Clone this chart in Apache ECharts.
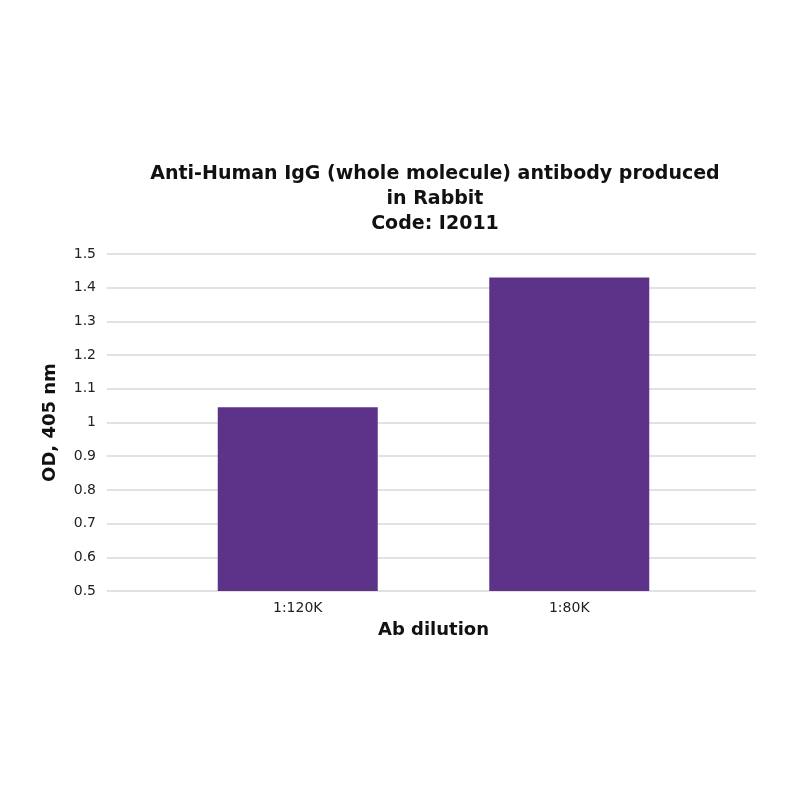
<!DOCTYPE html>
<html>
<head>
<meta charset="utf-8">
<script src="https://cdn.jsdelivr.net/npm/echarts@6/dist/echarts.min.js"></script>
<style>
  html, body { margin: 0; padding: 0; background: #fff; }
  #chart-container { width: 800px; height: 800px; }
</style>
</head>
<body>
<div id="chart-container"></div>
<script>
var dom = document.getElementById("chart-container");
var myChart = echarts.init(dom, null, { renderer: "canvas" });

// data
const dilutions = ["1:120K", "1:80K"];
const odValues = [1.045, 1.43];
const yMin = 0.5;
const yMax = 1.5;
const yStep = 0.1;

const font = "DejaVu Sans";

var option = {
  backgroundColor: "#fff",
  title: {
    text: "Anti-Human IgG (whole molecule) antibody produced\nin Rabbit\nCode: I2011",
    left: 430,
    top: 157,
    textAlign: "center",
    textStyle: {
      fontFamily: font,
      fontSize: 19,
      fontWeight: "bold",
      color: "#111",
      lineHeight: 25,
    },
  },
  grid: [
    // wide grid only for the horizontal gridlines + y labels
    { left: 107, right: 44, top: 254, bottom: 209 },
    // narrower grid holding the bars
    { left: 162, right: 95, top: 254, bottom: 209 },
  ],
  xAxis: [
    {
      gridIndex: 0,
      type: "category",
      data: dilutions,
      show: false,
    },
    {
      gridIndex: 1,
      type: "category",
      data: dilutions,
      axisLine: { show: false },
      axisTick: { show: false },
      axisLabel: {
        fontFamily: font,
        fontSize: 14,
        color: "#222",
        margin: 10,
      },
      name: "Ab dilution",
      nameLocation: "middle",
      nameGap: 30,
      nameTextStyle: {
        fontFamily: font,
        fontSize: 18,
        fontWeight: "bold",
        color: "#111",
      },
    },
  ],
  yAxis: [
    {
      gridIndex: 0,
      type: "value",
      min: yMin,
      max: yMax,
      interval: yStep,
      axisLine: { show: false },
      axisTick: { show: false },
      splitLine: { lineStyle: { color: "#d9d9d9", width: 1.5 } },
      axisLabel: {
        fontFamily: font,
        fontSize: 14,
        color: "#222",
        margin: 11,
        formatter: function (v) {
          return String(+v.toFixed(1));
        },
      },
      name: "OD, 405 nm",
      nameLocation: "middle",
      nameGap: 48,
      nameRotate: 90,
      nameTextStyle: {
        fontFamily: font,
        fontSize: 18,
        fontWeight: "bold",
        color: "#111",
      },
    },
    {
      gridIndex: 1,
      type: "value",
      min: yMin,
      max: yMax,
      interval: yStep,
      show: false,
      splitLine: { show: false },
    },
  ],
  series: [
    {
      type: "bar",
      xAxisIndex: 1,
      yAxisIndex: 1,
      data: odValues,
      barWidth: 160,
      itemStyle: { color: "#5c3389" },
    },
  ],
};

myChart.setOption(option);
window.addEventListener("resize", myChart.resize);
</script>
</body>
</html>
